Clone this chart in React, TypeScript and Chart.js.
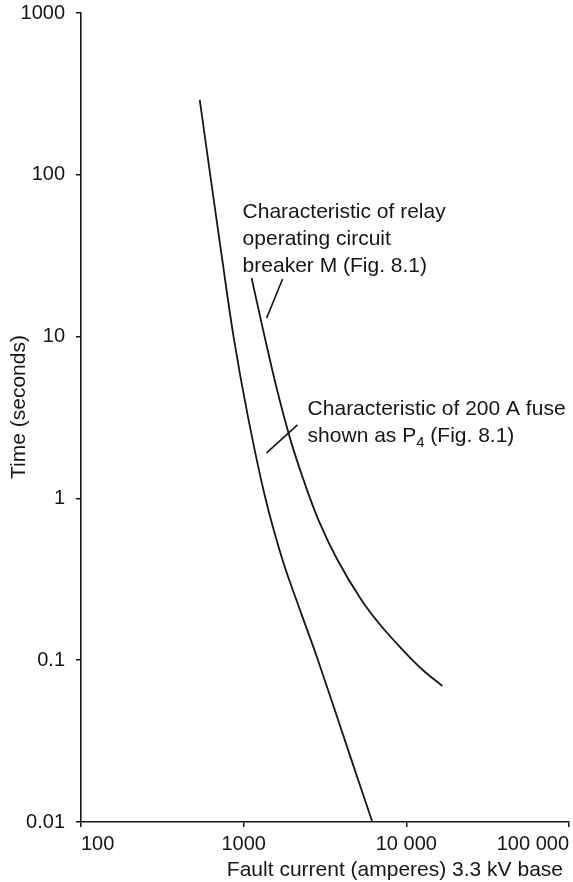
import React, { useEffect, useRef } from "react";
import { Chart, registerables } from "chart.js";

Chart.register(...registerables);

// Fault current (A) and operating time (s)
const fuseCurrent = [537, 623, 733, 868, 1064, 1355, 1734, 2221, 2864, 4598, 6184];
const fuseTime = [290, 100, 31.5, 9.9, 3.18, 1.02, 0.416, 0.204, 0.1, 0.0242, 0.01];

const relayCurrent = [1119, 1345, 1605, 1941, 2334, 2884, 3776, 5297, 6923, 9517, 12620, 16630];
const relayTime = [23.0, 10.0, 4.68, 2.3, 1.3, 0.735, 0.416, 0.2355, 0.165, 0.1156, 0.087, 0.0693];

const xTickValues = [100, 1000, 10000, 100000];
const xTickLabels = ["100", "1000", "10 000", "100 000"];
const yTickValues = [0.01, 0.1, 1, 10, 100, 1000];
const yTickLabels = ["0.01", "0.1", "1", "10", "100", "1000"];

const xTitle = "Fault current (amperes) 3.3 kV base";
const yTitle = "Time (seconds)";

const relayLabel = ["Characteristic of relay", "operating circuit", "breaker M (Fig. 8.1)"];
const fuseLabelLine1 = "Characteristic of 200 A fuse";
const fuseLabelLine2 = ["shown as P", "4", " (Fig. 8.1)"];

// annotation anchors in data space [current, time]
const relayLabelAnchor = [985, 54];
const fuseLabelAnchor = [2472, 3.27];
const relayLeader = [[1734, 22.7], [1384, 13.0]];
const fuseLeader = [[2143, 2.85], [1384, 1.91]];

const FONT = '"Liberation Sans", Arial, Helvetica, sans-serif';
const INK = "#161616";

const toPoints = (xs: number[], ys: number[]) => xs.map((x, i) => ({ x, y: ys[i] }));

const annotationPlugin = {
  id: "annotations",
  afterDraw(chart: any) {
    const ctx = chart.ctx as CanvasRenderingContext2D;
    const xs = chart.scales.x;
    const ys = chart.scales.y;
    const px = (v: number) => xs.getPixelForValue(v);
    const py = (v: number) => ys.getPixelForValue(v);
    ctx.save();
    ctx.fillStyle = INK;
    ctx.strokeStyle = INK;
    ctx.font = `21px ${FONT}`;
    ctx.textBaseline = "alphabetic";

    // x title
    ctx.textAlign = "right";
    ctx.fillText(xTitle, chart.chartArea.right - 6, 876);

    // y title
    ctx.save();
    ctx.translate(25, 407);
    ctx.rotate(-Math.PI / 2);
    ctx.textAlign = "center";
    ctx.fillText(yTitle, 0, 0);
    ctx.restore();

    // relay label
    ctx.textAlign = "left";
    const rx = px(relayLabelAnchor[0]);
    const ry = py(relayLabelAnchor[1]);
    relayLabel.forEach((line, i) => ctx.fillText(line, rx, ry + i * 27));

    // fuse label
    const fx = px(fuseLabelAnchor[0]);
    const fy = py(fuseLabelAnchor[1]);
    ctx.fillText(fuseLabelLine1, fx, fy);
    let cx = fx;
    const y2 = fy + 27;
    ctx.fillText(fuseLabelLine2[0], cx, y2);
    cx += ctx.measureText(fuseLabelLine2[0]).width;
    ctx.font = `15px ${FONT}`;
    ctx.fillText(fuseLabelLine2[1], cx, y2 + 5);
    cx += ctx.measureText(fuseLabelLine2[1]).width;
    ctx.font = `21px ${FONT}`;
    ctx.fillText(fuseLabelLine2[2], cx, y2);

    // leader lines
    ctx.lineWidth = 1.6;
    [relayLeader, fuseLeader].forEach((seg) => {
      ctx.beginPath();
      ctx.moveTo(px(seg[0][0]), py(seg[0][1]));
      ctx.lineTo(px(seg[1][0]), py(seg[1][1]));
      ctx.stroke();
    });
    ctx.restore();
  },
};

export default function App() {
  const ref = useRef<HTMLCanvasElement>(null);
  useEffect(() => {
    const chart = new Chart(ref.current!, {
      type: "scatter",
      data: {
        datasets: [
          {
            label: "200 A fuse P4",
            data: toPoints(fuseCurrent, fuseTime),
            showLine: true,
            borderColor: INK,
            borderWidth: 1.8,
            pointRadius: 0,
            tension: 0.35,
          },
          {
            label: "Relay breaker M",
            data: toPoints(relayCurrent, relayTime),
            showLine: true,
            borderColor: INK,
            borderWidth: 1.8,
            pointRadius: 0,
            tension: 0.35,
          },
        ],
      },
      options: {
        responsive: false,
        devicePixelRatio: 1,
        animation: false,
        layout: { padding: { top: 13, right: 4, left: 0, bottom: 0 } },
        plugins: { legend: { display: false }, tooltip: { enabled: false }, title: { display: false } },
        scales: {
          x: {
            type: "logarithmic",
            min: 100,
            max: 100000,
            afterBuildTicks: (s: any) => {
              s.ticks = xTickValues.map((v) => ({ value: v }));
            },
            afterFit: (s: any) => {
              s.height = 60;
              s.paddingLeft = 0;
              s.paddingRight = 0;
            },
            ticks: {
              callback: (_v: any, i: number) => xTickLabels[i],
              font: { family: FONT, size: 20 },
              color: INK,
              padding: 5,
              maxRotation: 0,
              autoSkip: false,
              align: "inner",
            },
            grid: { drawOnChartArea: false, drawTicks: true, tickLength: 5, color: INK, lineWidth: 1.5 },
            border: { display: true, color: INK, width: 1.6 },
          },
          y: {
            type: "logarithmic",
            min: 0.01,
            max: 1000,
            afterBuildTicks: (s: any) => {
              s.ticks = yTickValues.map((v) => ({ value: v }));
            },
            afterFit: (s: any) => {
              s.width = 81;
              s.paddingTop = 0;
              s.paddingBottom = 0;
            },
            ticks: {
              callback: (_v: any, i: number) => yTickLabels[i],
              font: { family: FONT, size: 20 },
              color: INK,
              padding: 11,
              autoSkip: false,
            },
            grid: { drawOnChartArea: false, drawTicks: true, tickLength: 5, color: INK, lineWidth: 1.5 },
            border: { display: true, color: INK, width: 1.6 },
          },
        },
      },
      plugins: [annotationPlugin],
    } as any);
    return () => chart.destroy();
  }, []);
  return (
    <div style={{ position: "fixed", left: 0, top: 0, width: 573, height: 882, background: "#fff" }}>
      <canvas ref={ref} width={573} height={882} style={{ display: "block", width: 573, height: 882 }} />
    </div>
  );
}
